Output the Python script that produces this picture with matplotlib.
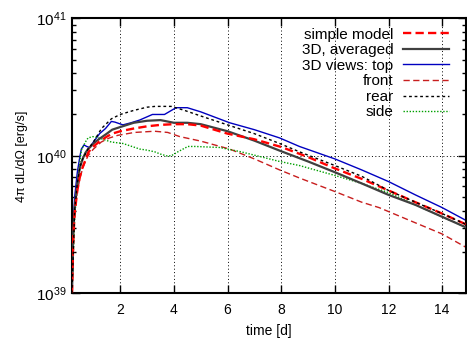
import numpy as np
import matplotlib
matplotlib.use('Agg')
import matplotlib.pyplot as plt
from matplotlib.ticker import LogLocator, NullFormatter, FixedLocator

plt.rcParams['font.family'] = ['Liberation Sans', 'DejaVu Sans']
plt.rcParams['mathtext.fontset'] = 'custom'
plt.rcParams['mathtext.rm'] = 'Liberation Sans'
plt.rcParams['mathtext.default'] = 'regular'

# luminosities in units of 1e40 erg/s
t_simple = [0.2, 0.25, 0.3, 0.4, 0.5, 0.6, 0.7, 0.8, 0.9, 1.0, 1.2, 1.5, 1.7, 2.0, 2.5, 3.0,
            3.5, 4.0, 4.5, 5.0, 6.0, 7.0, 8.0, 9.0, 10.0, 11.0, 12.0, 13.0, 14.0, 15.0]
L_simple = [0.1, 0.25, 0.38, 0.56, 0.71, 0.83, 0.93, 1.05, 1.12, 1.17, 1.26, 1.38, 1.45, 1.51,
            1.58, 1.64, 1.68, 1.70, 1.70, 1.66, 1.45, 1.32, 1.16, 0.98, 0.81, 0.68, 0.56, 0.46,
            0.38, 0.31]

t_avg = [0.2, 0.25, 0.3, 0.4, 0.5, 0.6, 0.7, 0.8, 0.9, 1.0, 1.2, 1.5, 1.7, 2.0, 2.5, 3.0,
         3.5, 4.0, 4.5, 5.0, 6.0, 7.0, 8.0, 9.0, 10.0, 11.0, 12.0, 13.0, 14.0, 15.0]
L_avg = [0.1, 0.28, 0.42, 0.63, 0.83, 0.95, 1.05, 1.12, 1.17, 1.23, 1.32, 1.45, 1.55, 1.62,
         1.74, 1.80, 1.82, 1.74, 1.74, 1.70, 1.51, 1.29, 1.08, 0.91, 0.76, 0.63, 0.52, 0.44,
         0.36, 0.295]

t_top = [0.2, 0.25, 0.3, 0.4, 0.5, 0.55, 0.65, 0.75, 0.86, 1.0, 1.23, 1.45, 1.67, 1.8, 2.1,
         2.4, 2.72, 3.2, 3.65, 4.08, 4.5, 5.0, 6.08, 7.0, 7.94, 8.68, 10.0, 11.0, 12.0, 13.0,
         14.0, 15.0]
L_top = [0.1, 0.32, 0.5, 0.76, 1.0, 1.12, 1.20, 1.17, 1.15, 1.26, 1.45, 1.58, 1.78, 1.76,
         1.68, 1.74, 1.82, 2.0, 2.0, 2.24, 2.24, 2.09, 1.74, 1.55, 1.35, 1.17, 0.95, 0.79,
         0.65, 0.52, 0.42, 0.33]

t_front = [0.2, 0.25, 0.3, 0.4, 0.5, 0.6, 0.7, 0.8, 1.0, 1.29, 1.6, 1.91, 2.53, 3.28, 3.77,
           4.22, 4.45, 5.0, 6.08, 7.0, 7.94, 8.68, 10.0, 11.0, 11.65, 12.77, 14.0, 15.0]
L_front = [0.1, 0.25, 0.37, 0.55, 0.69, 0.81, 0.91, 1.0, 1.12, 1.26, 1.35, 1.41, 1.48, 1.51,
           1.48, 1.38, 1.35, 1.28, 1.12, 0.95, 0.79, 0.69, 0.55, 0.46, 0.42, 0.34, 0.27, 0.21]

t_rear = [0.2, 0.3, 0.4, 0.5, 0.6, 0.8, 1.0, 1.3, 1.67, 2.0, 2.5, 3.0, 3.3, 3.9, 4.4, 5.0,
          6.08, 7.0, 7.94, 8.68, 10.0, 11.0, 12.0, 13.0, 14.0, 15.0]
L_rear = [0.1, 0.40, 0.63, 0.83, 0.95, 1.12, 1.26, 1.58, 1.86, 2.0, 2.14, 2.26, 2.29, 2.29,
          2.14, 1.95, 1.66, 1.45, 1.23, 1.07, 0.85, 0.71, 0.56, 0.46, 0.38, 0.31]

t_side = [0.2, 0.3, 0.4, 0.55, 0.7, 0.8, 0.98, 1.2, 1.67, 2.1, 2.73, 3.0, 3.28, 3.5, 3.72,
          3.9, 4.15, 4.52, 4.8, 5.71, 6.5, 7.94, 8.68, 10.0, 11.0, 12.0, 13.0, 14.0, 15.0]
L_side = [0.1, 0.35, 0.63, 1.10, 1.26, 1.35, 1.38, 1.35, 1.26, 1.23, 1.12, 1.10, 1.07, 1.03,
          1.0, 1.0, 1.07, 1.17, 1.17, 1.15, 1.07, 0.91, 0.85, 0.72, 0.63, 0.54, 0.44, 0.36,
          0.295]

x_ticks = [2, 4, 6, 8, 10, 12, 14]
scale = 1e40

fig = plt.figure(figsize=(4.67, 3.41), dpi=100)
ax = fig.add_axes([0.1535, 0.14, 0.845, 0.806])

ax.plot(t_simple, np.array(L_simple) * scale, color='#ff0000', lw=1.7, dashes=(3.5, 1.8),
        label='simple model', zorder=5)
ax.plot(t_avg, np.array(L_avg) * scale, color='#404040', lw=1.6, label='3D, averaged', zorder=4)
ax.plot(t_top, np.array(L_top) * scale, color='#0000c0', lw=1.0, label='3D views: top')
ax.plot(t_front, np.array(L_front) * scale, color='#c81e1e', lw=1.0, dashes=(4.5, 2.5),
        label='front')
ax.plot(t_rear, np.array(L_rear) * scale, color='black', lw=1.0, dashes=(2.0, 2.0),
        label='rear', zorder=6)
ax.plot(t_side, np.array(L_side) * scale, color='#00a000', lw=1.0, dashes=(1.0, 1.2),
        label='side')

ax.set_yscale('log')
ax.set_xlim(0.19, 14.9)
ax.set_ylim(1e39, 1e41)

ax.xaxis.set_major_locator(FixedLocator(x_ticks))
ax.yaxis.set_major_locator(LogLocator(base=10))
ax.yaxis.set_minor_locator(LogLocator(base=10, subs=np.arange(2, 10)))
ax.yaxis.set_minor_formatter(NullFormatter())

ax.tick_params(which='both', direction='in', top=True, right=True, labelsize=11)
ax.tick_params(axis='x', labelsize=10, pad=7)
ax.tick_params(which='major', length=6, width=1)
ax.tick_params(which='minor', length=3, width=1)
for s in ax.spines.values():
    s.set_linewidth(1.5)

ax.grid(True, which='major', color='black', lw=0.7, dashes=(1, 2.5))

ax.set_xlabel('time [d]', fontsize=10, labelpad=5)
ax.set_ylabel('4π dL/dΩ [erg/s]', fontsize=9, labelpad=6)

leg = ax.legend(loc='upper right', bbox_to_anchor=(0.957, 0.966), frameon=False,
                markerfirst=False, fontsize=11, handlelength=3.0, handletextpad=0.65,
                labelspacing=0.1, borderpad=0, borderaxespad=0)

fig.savefig('out.png', dpi=100)
